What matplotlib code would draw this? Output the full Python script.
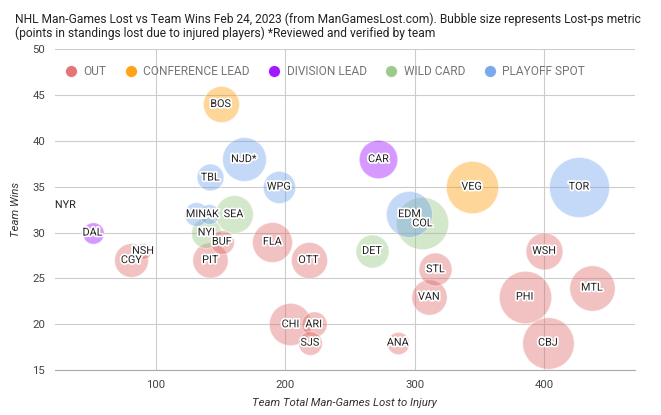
import numpy as np
import matplotlib
matplotlib.use('Agg')
from matplotlib import pyplot as plt
from matplotlib.lines import Line2D
import matplotlib.patheffects as pe

plt.rcParams['font.family'] = ['Roboto', 'DejaVu Sans']

# Data
teams = ['NYR', 'DAL', 'NSH', 'CGY', 'LAK', 'MIN', 'SEA', 'NYI', 'BUF', 'PIT',
         'TBL', 'BOS', 'NJD*', 'WPG', 'FLA', 'OTT', 'DET', 'EDM', 'COL', 'STL',
         'VAN', 'CAR', 'VEG', 'TOR', 'WSH', 'PHI', 'MTL', 'CBJ', 'CHI', 'ARI',
         'SJS', 'ANA']
man_games = [30, 51, 90, 81, 141, 131, 160, 139, 151, 142,
             142, 150, 168, 195, 190, 218, 267, 296, 306, 316,
             311, 272, 344, 427, 400, 385, 437, 403, 204, 222,
             219, 287]
wins = [33, 30, 28, 27, 32, 32, 32, 30, 29, 27,
        36, 44, 38, 35, 29, 27, 28, 32, 31, 26,
        23, 38, 35, 35, 28, 23, 24, 18, 20, 20,
        18, 18]
lost_ps = [0.0, 2.0, 1.3, 3.6, 1.8, 2.3, 4.1, 3.1, 2.3, 3.8,
           2.7, 3.9, 4.9, 3.4, 4.4, 3.9, 3.5, 5.2, 6.0, 3.5,
           3.8, 4.2, 6.0, 7.0, 4.0, 6.0, 5.1, 5.9, 4.7, 2.5,
           2.3, 2.1]
status = ['PLAYOFF SPOT', 'DIVISION LEAD', 'OUT', 'OUT', 'PLAYOFF SPOT', 'PLAYOFF SPOT',
          'WILD CARD', 'WILD CARD', 'OUT', 'OUT',
          'PLAYOFF SPOT', 'CONFERENCE LEAD', 'PLAYOFF SPOT', 'PLAYOFF SPOT', 'OUT', 'OUT',
          'WILD CARD', 'PLAYOFF SPOT', 'WILD CARD', 'OUT',
          'OUT', 'DIVISION LEAD', 'CONFERENCE LEAD', 'PLAYOFF SPOT', 'OUT', 'OUT',
          'OUT', 'OUT', 'OUT', 'OUT', 'OUT', 'OUT']
categories = ['OUT', 'CONFERENCE LEAD', 'DIVISION LEAD', 'WILD CARD', 'PLAYOFF SPOT']
colors = {'OUT': '#e06666', 'CONFERENCE LEAD': '#ff9900', 'DIVISION LEAD': '#9900ff',
          'WILD CARD': '#93c47d', 'PLAYOFF SPOT': '#6d9eeb'}

fig = plt.figure(figsize=(6.61, 4.15), dpi=100)
ax = fig.add_axes([0.0832, 0.108, 0.8768, 0.774])

# bubble radius in px, scaled like the sheets chart (min ~3px, max 30px)
vmax = max(lost_ps)
radius = [3 + 27 * v / vmax for v in lost_ps]
sizes = [(2 * r * 0.72) ** 2 for r in radius]

# draw big bubbles first
order = np.argsort(lost_ps)[::-1]
for i in order:
    ax.scatter(man_games[i], wins[i], s=sizes[i], color=colors[status[i]], alpha=0.4,
               edgecolors='white', linewidths=0.8, zorder=3)

# labels with white halo, later ones sit on top
halo = [pe.withStroke(linewidth=2.5, foreground='white')]
for i in range(len(teams)):
    ax.text(man_games[i], wins[i], teams[i], ha='center', va='center', fontsize=7.8,
            color='#222222', zorder=5 + i * 0.01, path_effects=halo)

ax.set_xlim(22, 470)
ax.set_ylim(15, 50)
ax.set_xticks([100, 200, 300, 400])
ax.set_yticks(range(15, 51, 5))
ax.grid(True, color='#cccccc', linewidth=0.8, zorder=0)
ax.set_axisbelow(True)
for sp in ['top', 'right', 'left']:
    ax.spines[sp].set_visible(False)
ax.spines['bottom'].set_color('#aaaaaa')
ax.spines['bottom'].set_linewidth(0.8)
ax.tick_params(length=0, labelsize=8.2, labelcolor='#444444', pad=7)
ax.set_xlabel('Team Total Man-Games Lost to Injury', fontsize=8.2, style='italic',
              color='#333333', labelpad=6)
ax.set_ylabel('Team Wins', fontsize=8.2, style='italic', color='#333333', labelpad=8)

# Legend
handles = [Line2D([0], [0], marker='o', linestyle='', markersize=9,
                  markerfacecolor=colors[c], markeredgecolor='white', alpha=0.9)
           for c in categories]
ax.legend(handles, categories, loc='upper left', bbox_to_anchor=(0.007, 0.965), ncol=5,
          frameon=False, fontsize=8.6, labelcolor='#757575', handletextpad=0.45,
          columnspacing=1.45, borderaxespad=0, handlelength=1.2)

fig.text(0.022, 0.97, 'NHL Man-Games Lost vs Team Wins Feb 24, 2023 (from ManGamesLost.com). '
         'Bubble size represents Lost-ps metric\n(points in standings lost due to injured players) '
         '*Reviewed and verified by team', fontsize=8.65, color='#222222', va='top',
         linespacing=1.05)

plt.savefig('out.png', dpi=100)
